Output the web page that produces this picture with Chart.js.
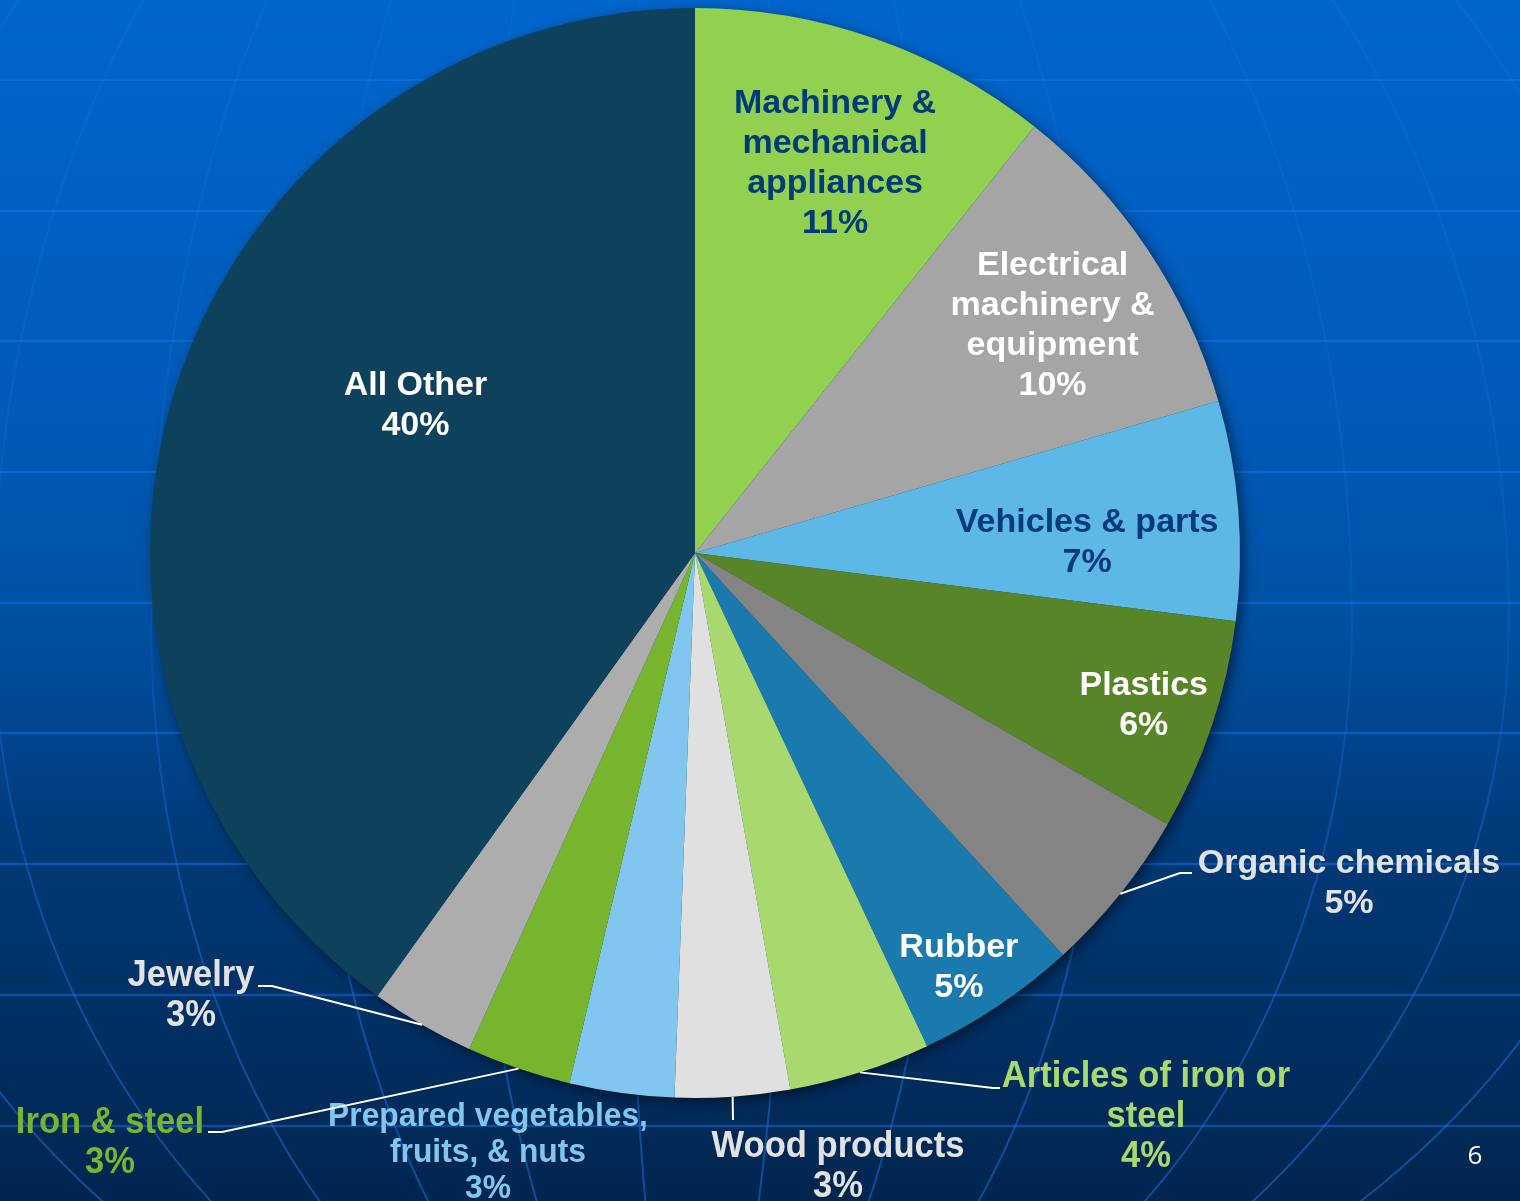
<!DOCTYPE html>
<html>
<head>
<meta charset="utf-8">
<script src="https://cdn.jsdelivr.net/npm/chart.js@4.4.1/dist/chart.umd.min.js"></script>
<style>
  html, body { margin: 0; padding: 0; overflow: hidden; background: #00264f; }
  #wrap { width: 1520px; height: 1201px; position: relative; }
</style>
</head>
<body>
<div id="wrap"><canvas id="pie"></canvas></div>
<script>
const categories = [
  ["Machinery &", "mechanical", "appliances"],
  ["Electrical", "machinery &", "equipment"],
  ["Vehicles & parts"],
  ["Plastics"],
  ["Organic chemicals"],
  ["Rubber"],
  ["Articles of iron or", "steel"],
  ["Wood products"],
  ["Prepared vegetables,", "fruits, & nuts"],
  ["Iron & steel"],
  ["Jewelry"],
  ["All Other"]
]
const shares = [10.7, 9.8, 6.5, 6.3, 4.9, 4.8, 4.2, 3.4, 3.1, 3.1, 3.1, 40.1]
const shareLabels = ["11%", "10%", "7%", "6%", "5%", "5%", "4%", "3%", "3%", "3%", "3%", "40%"]

const sliceColors = [
  "#92d050", "#a5a5a5", "#5db8e8", "#588527", "#848484", "#1a7aad",
  "#a9d86e", "#e0e0e0", "#80c6ee", "#77b52f", "#adadad", "#0e425c"
]

// where each label goes: inside (radius fraction + angle nudge) or outside (offset from pie centre)
const labelLayout = [
  { inside: true, r: 0.76, da: 0.5, color: "#003c78" },
  { inside: true, r: 0.78, da: 1.1, color: "#ffffff", dy: 3 },
  { inside: true, r: 0.72, da: 2.5, color: "#003c78", dy: 3 },
  { inside: true, r: 0.87, da: 0.3, color: "#ffffff" },
  { inside: false, at: [654, 331], knee: [485, 320], end: [497, 320], color: "#e2e2e2" },
  { inside: true, r: 0.90, da: 1.3, color: "#ffffff", dy: 1 },
  { inside: false, at: [451, 564], knee: [298, 535], end: [305, 535], color: "#a9d86e", narrow: 37 },
  { inside: false, at: [143, 614], knee: null, end: [38, 567], color: "#e2e2e2", narrow: 37 },
  { inside: false, at: [-207, 600], knee: null, end: null, color: "#80c6ee", narrow: 34, lineH: 36 },
  { inside: false, at: [-585, 590], knee: [-473, 579], end: [-487, 579], color: "#77b52f", narrow: 37 },
  { inside: false, at: [-504, 443], knee: [-423, 433], end: [-437, 433], color: "#e2e2e2", narrow: 37 },
  { inside: true, r: 0.58, da: 10, color: "#ffffff" }
]

const gridRows = [80, 211, 341, 472, 603, 733, 864, 995, 1126]
const meridians = [-855, -697, -539, -381, -223, -65, 100, 260, 420, 662, 819, 976]

const backdrop = {
  id: "backdrop",
  beforeDraw(chart) {
    const ctx = chart.ctx
    const w = chart.width, h = chart.height
    const g = ctx.createLinearGradient(0, 0, 0, h)
    g.addColorStop(0, "#0066cd")
    g.addColorStop(0.33, "#005bb8")
    g.addColorStop(0.5, "#0052a6")
    g.addColorStop(0.62, "#00448b")
    g.addColorStop(0.7, "#003a78")
    g.addColorStop(1, "#00264f")
    ctx.save()
    ctx.fillStyle = g
    ctx.fillRect(0, 0, w, h)

    ctx.strokeStyle = "rgba(25, 120, 240, 0.45)"
    ctx.lineWidth = 2.5
    gridRows.forEach((y) => {
      ctx.beginPath()
      ctx.moveTo(0, y)
      ctx.lineTo(w, y)
      ctx.stroke()
    })

    const mg = ctx.createLinearGradient(0, 0, 0, h)
    mg.addColorStop(0, "rgba(40, 130, 245, 0.12)")
    mg.addColorStop(0.55, "rgba(30, 120, 240, 0.2)")
    mg.addColorStop(0.75, "rgba(25, 115, 235, 0.45)")
    mg.addColorStop(1, "rgba(25, 115, 235, 0.5)")
    ctx.strokeStyle = mg
    const cx = 690, cy = 620, bTop = 1000, bBot = 800
    ctx.lineWidth = 2
    meridians.forEach((a) => {
      const ax = Math.abs(a)
      ctx.beginPath()
      if (a > 0) {
        ctx.ellipse(cx, cy, ax, bTop, 0, -Math.PI / 2, 0)
        ctx.ellipse(cx, cy, ax, bBot, 0, 0, Math.PI / 2)
      } else {
        ctx.ellipse(cx, cy, ax, bTop, 0, -Math.PI / 2, -Math.PI, true)
        ctx.ellipse(cx, cy, ax, bBot, 0, Math.PI, Math.PI / 2, true)
      }
      ctx.stroke()
    })

    ctx.fillStyle = "#ffffff"
    ctx.font = "26px 'Open Sans'"
    ctx.textAlign = "center"
    ctx.textBaseline = "middle"
    ctx.fillText("6", 1475, 1157)
    ctx.restore()
  }
}

const pieShadow = {
  id: "pieShadow",
  beforeDatasetsDraw(chart) {
    const arc = chart.getDatasetMeta(0).data[0]
    if (!arc) return
    const ctx = chart.ctx
    ctx.save()
    ctx.shadowColor = "rgba(0, 0, 0, 0.55)"
    ctx.shadowBlur = 14
    ctx.shadowOffsetX = 4
    ctx.shadowOffsetY = 4
    ctx.beginPath()
    ctx.arc(arc.x, arc.y, arc.outerRadius - 1, 0, Math.PI * 2)
    ctx.fillStyle = "#0e425c"
    ctx.fill()
    ctx.restore()
  }
}

function drawLine(ctx, text, x, y, narrow) {
  if (narrow) {
    ctx.save()
    ctx.translate(x, y)
    ctx.scale(0.935, 1)
    ctx.fillText(text, 0, 0)
    ctx.restore()
  } else {
    ctx.fillText(text, x, y)
  }
}

const sliceLabels = {
  id: "sliceLabels",
  afterDatasetsDraw(chart) {
    const ctx = chart.ctx
    const meta = chart.getDatasetMeta(0)
    ctx.save()
    ctx.textAlign = "center"
    ctx.textBaseline = "middle"
    meta.data.forEach((arc, i) => {
      const lay = labelLayout[i]
      const lines = categories[i].concat([shareLabels[i]])
      const lineH = lay.lineH || 40
      const mid = (arc.startAngle + arc.endAngle) / 2
      let cx, cy
      if (lay.inside) {
        const a = mid + lay.da * Math.PI / 180
        cx = arc.x + Math.cos(a) * arc.outerRadius * lay.r
        cy = arc.y + Math.sin(a) * arc.outerRadius * lay.r + (lay.dy || 0)
      } else {
        cx = arc.x + lay.at[0]
        cy = arc.y + lay.at[1]
        if (lay.end) {
          ctx.strokeStyle = "#ffffff"
          ctx.lineWidth = 2
          ctx.beginPath()
          ctx.moveTo(arc.x + Math.cos(mid) * arc.outerRadius, arc.y + Math.sin(mid) * arc.outerRadius)
          if (lay.knee) ctx.lineTo(arc.x + lay.knee[0], arc.y + lay.knee[1])
          ctx.lineTo(arc.x + lay.end[0], arc.y + lay.end[1])
          ctx.stroke()
        }
      }
      ctx.fillStyle = lay.color
      ctx.font = "bold " + (lay.narrow || 34) + "px 'Liberation Sans', Arial, sans-serif"
      const top = cy - (lines.length - 1) * lineH / 2
      lines.forEach((t, k) => drawLine(ctx, t, cx, top + k * lineH, !!lay.narrow))
    })
    ctx.restore()
  }
}

new Chart(document.getElementById("pie"), {
  type: "pie",
  data: {
    labels: categories.map((c) => c.join(" ")),
    datasets: [{
      data: shares,
      backgroundColor: sliceColors,
      borderWidth: 0
    }]
  },
  options: {
    responsive: true,
    maintainAspectRatio: false,
    animation: false,
    layout: { padding: { left: 150, right: 280, top: 8, bottom: 103 } },
    plugins: {
      legend: { display: false },
      tooltip: { enabled: false }
    }
  },
  plugins: [backdrop, pieShadow, sliceLabels]
})
</script>
</body>
</html>
